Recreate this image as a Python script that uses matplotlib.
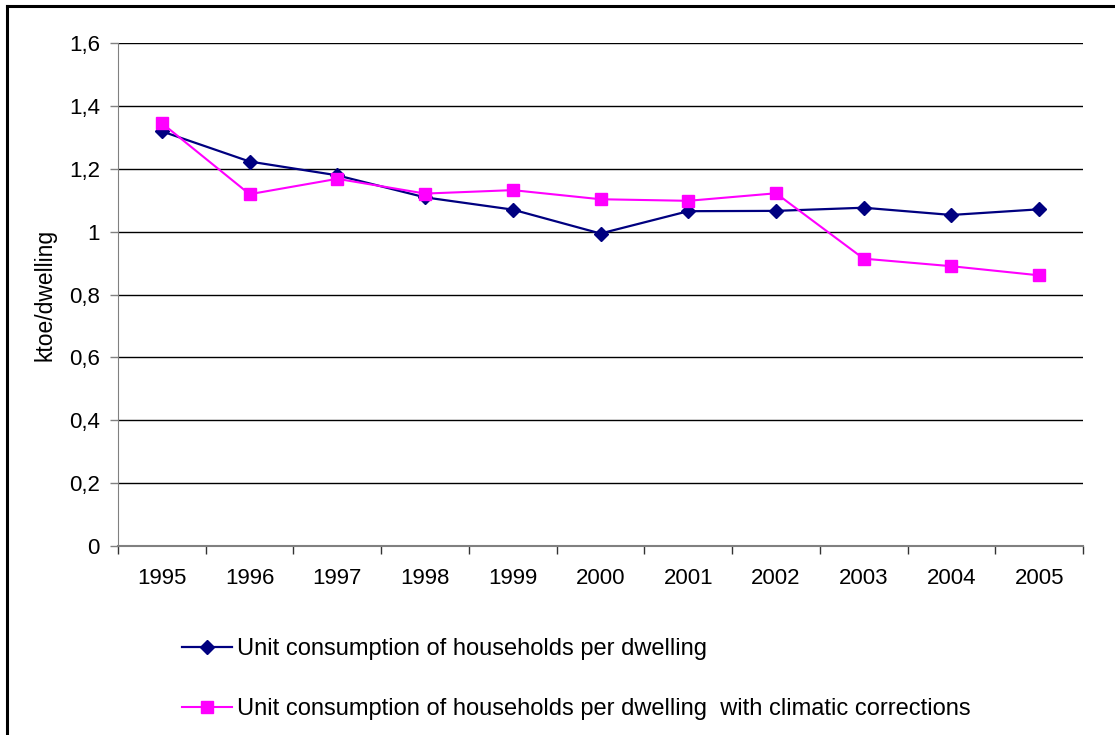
import numpy as np
import matplotlib.pyplot as plt
from matplotlib.lines import Line2D
from matplotlib.ticker import FixedLocator, NullFormatter

plt.rcParams['font.family'] = ['Liberation Sans', 'DejaVu Sans']

years = ['1995', '1996', '1997', '1998', '1999', '2000',
         '2001', '2002', '2003', '2004', '2005']
per_dwelling = [1.319, 1.223, 1.179, 1.109, 1.070, 0.994,
                1.065, 1.066, 1.076, 1.053, 1.071]
per_dwelling_clim = [1.345, 1.119, 1.168, 1.121, 1.132, 1.103,
                     1.098, 1.122, 0.914, 0.890, 0.861]
yticks = [0, 0.2, 0.4, 0.6, 0.8, 1.0, 1.2, 1.4, 1.6]
ytick_labels = ['0', '0,2', '0,4', '0,6', '0,8', '1', '1,2', '1,4', '1,6']

W, H = 1115, 735
fig = plt.figure(figsize=(W / 100, H / 100), dpi=100)
ax = fig.add_axes([118 / W, 1 - 546 / H, (1083 - 118) / W, (546 - 43) / H])

x = np.arange(len(years))
l1, = ax.plot(x, per_dwelling, color='#000080', lw=1.6, marker='D',
              ms=7, zorder=3)
l2, = ax.plot(x, per_dwelling_clim, color='#ff00ff', lw=1.5, marker='s',
              ms=8, zorder=3)

ax.set_xlim(-0.5, len(years) - 0.5)
ax.set_ylim(0, 1.6)

# horizontal grid at every major y tick
for v in yticks[1:]:
    ax.axhline(v, color='black', lw=1, zorder=1)

ax.set_yticks(yticks)
ax.set_yticklabels(ytick_labels, fontsize=16)
ax.tick_params(axis='y', direction='out', length=6, width=1,
               color='#808080', pad=7)

# year labels centred, tick marks on category boundaries
ax.set_xticks(x)
ax.set_xticklabels(years, fontsize=16)
ax.tick_params(axis='x', which='major', length=0, pad=16)
ax.xaxis.set_minor_locator(FixedLocator(np.arange(-0.5, len(years), 1.0)))
ax.xaxis.set_minor_formatter(NullFormatter())
ax.tick_params(axis='x', which='minor', direction='out', length=6,
               width=1, color='#333333')

for side in ['top', 'right']:
    ax.spines[side].set_visible(False)
ax.spines['left'].set_color('#808080')
ax.spines['bottom'].set_color('#808080')
ax.spines['bottom'].set_linewidth(1.5)

ax.set_ylabel('ktoe/dwelling', fontsize=16.5, labelpad=9)

fig.legend([l1, l2],
           ['Unit consumption of households per dwelling',
            'Unit consumption of households per dwelling  with climatic corrections'],
           loc='upper left', bbox_to_anchor=(182 / W, 1 - 638 / H),
           frameon=False, fontsize=17, handlelength=2.1,
           handletextpad=0.25, labelspacing=1.6,
           borderpad=0, borderaxespad=0)

# outer chart frame (top and left edges)
fig.add_artist(Line2D([7 / W, 1.0], [1 - 6 / H, 1 - 6 / H],
                      color='black', lw=2.2, transform=fig.transFigure))
fig.add_artist(Line2D([7 / W, 7 / W], [0, 1 - 6 / H],
                      color='black', lw=2.2, transform=fig.transFigure))

fig.savefig('out.png', dpi=100)
